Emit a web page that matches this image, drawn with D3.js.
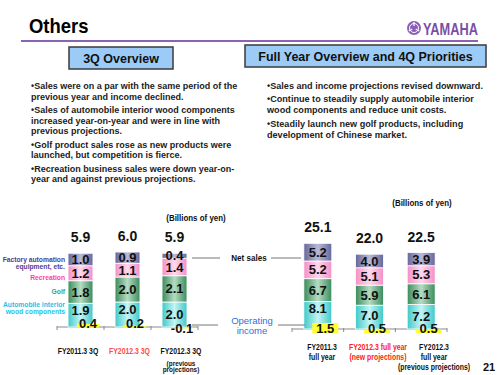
<!DOCTYPE html>
<html>
<head>
<meta charset="utf-8">
<script src="https://cdn.jsdelivr.net/npm/d3@7"></script>
<style>
  body { margin: 0; background: #fff; }
  svg { font-family: "Liberation Sans", Arial, sans-serif; }
</style>
</head>
<body>
<svg width="500" height="375"></svg>
<script>
// ---- data ----
const leftCats = ["FY2011.3 3Q", "FY2012.3 3Q", "FY2012.3 3Q (previous projections)"];
const leftAuto = [1.9, 2.0, 2.0];
const leftGolf = [1.8, 2.0, 2.1];
const leftRec = [1.2, 1.1, 1.4];
const leftFA = [1.0, 0.9, 0.4];
const leftTotal = [5.9, 6.0, 5.9];
const leftOp = [0.4, 0.2, -0.1];

const rightCats = ["FY2011.3 full year", "FY2012.3 full year (new projections)", "FY2012.3 full year (previous projections)"];
const rightAuto = [8.1, 7.0, 7.2];
const rightGolf = [6.7, 5.9, 6.1];
const rightRec = [5.2, 5.1, 5.3];
const rightFA = [5.2, 4.0, 3.9];
const rightTotal = [25.1, 22.0, 22.5];
const rightOp = [1.5, 0.5, 0.5];

const segKeys = ["auto", "golf", "rec", "fa"];

const leftBullets = [
  ["•Sales were on a par with the same period of the", "previous year and income declined."],
  ["•Sales of automobile interior wood components", "increased year-on-year and were in line with", "previous projections."],
  ["•Golf product sales rose as new products were", "launched, but competition is fierce."],
  ["•Recreation business sales were down year-on-", "year and against previous projections."]
];
const rightBullets = [
  ["•Sales and income projections revised downward."],
  ["•Continue to steadily supply automobile interior", "wood components and reduce unit costs."],
  ["•Steadily launch new golf products, including", "development of Chinese market."]
];

const leftLabelLines = [["FY2011.3 3Q"], ["FY2012.3 3Q"], ["FY2012.3 3Q", "(previous", "projections)"]];
const rightLabelLines = [["FY2011.3", "full year"], ["FY2012.3 full year", "(new projections)"], ["FY2012.3", "full year", "(previous projections)"]];

const svg = d3.select("svg");

// squeeze text horizontally, the slide uses a narrow face
function condense(sel, f) {
  sel.each(function() {
    const w = this.getComputedTextLength();
    d3.select(this).attr("textLength", w * f).attr("lengthAdjust", "spacingAndGlyphs");
  });
  return sel;
}

// ---- gradients ----
const gradColors = {
  auto: ["#3fc9c9", "#c4f4f4"],
  golf: ["#3b8c5c", "#b4dcc2"],
  rec:  ["#f390c6", "#ffd8ec"],
  fa:   ["#66679c", "#b9b9d6"]
};
const defs = svg.append("defs");
Object.keys(gradColors).forEach(k => {
  const g = defs.append("linearGradient").attr("id", "g-" + k)
    .attr("x1", "0%").attr("x2", "100%").attr("y1", "0%").attr("y2", "0%");
  g.append("stop").attr("offset", "0%").attr("stop-color", gradColors[k][0]);
  g.append("stop").attr("offset", "50%").attr("stop-color", gradColors[k][1]);
  g.append("stop").attr("offset", "100%").attr("stop-color", gradColors[k][0]);
});

// ---- header ----
condense(svg.append("text").attr("x", 29).attr("y", 33)
  .attr("font-size", 20.5).attr("font-weight", "bold").text("Others"), 0.9);
svg.append("line").attr("x1", 21).attr("x2", 478).attr("y1", 41).attr("y2", 41)
  .attr("stroke", "#8a63b4").attr("stroke-width", 2);

// logo
const logo = svg.append("g").attr("transform", "translate(414,28)");
logo.append("circle").attr("r", 7).attr("fill", "#8b5fb8");
logo.append("circle").attr("r", 4.5).attr("fill", "none").attr("stroke", "#fff").attr("stroke-width", 1);
d3.range(3).forEach(i => {
  logo.append("line").attr("x1", 0).attr("y1", -6).attr("x2", 0).attr("y2", -2)
    .attr("stroke", "#fff").attr("stroke-width", 1.2)
    .attr("transform", `rotate(${i * 120})`);
});
svg.append("text").attr("x", 423).attr("y", 35)
  .attr("font-size", 16).attr("font-weight", "bold").attr("fill", "#7b4fa8")
  .attr("textLength", 55).attr("lengthAdjust", "spacingAndGlyphs").text("YAMAHA");

// section boxes
function headBox(x, y, w, h, label) {
  svg.append("rect").attr("x", x).attr("y", y).attr("width", w).attr("height", h)
    .attr("fill", "#9dcbf7").attr("stroke", "#3a3a3a").attr("stroke-width", 1.5);
  svg.append("text").attr("x", x + w / 2).attr("y", y + h / 2 + 4.5)
    .attr("text-anchor", "middle").attr("font-size", 12.5).attr("font-weight", "bold")
    .attr("fill", "#111").text(label);
}
headBox(69, 47, 104, 22, "3Q Overview");
headBox(245, 45, 241, 22, "Full Year Overview and 4Q Priorities");

// bullets
function bullets(list, x, y0, lineH, gap, fs) {
  let y = y0;
  list.forEach(par => {
    par.forEach(line => {
      svg.append("text").attr("x", x).attr("y", y)
        .attr("font-size", fs).attr("font-weight", "bold").attr("fill", "#222").text(line);
      y += lineH;
    });
    y += gap;
  });
}
bullets(leftBullets, 31, 89, 10.5, 3, 9.0);
bullets(rightBullets, 267, 88.5, 11, 2.5, 9.1);

// ---- charts ----
function drawChart(cfg) {
  const x = d3.scaleBand().domain(cfg.cats).range(cfg.xRange)
    .paddingInner(cfg.pad).paddingOuter(cfg.pad / 2);
  const y = d3.scaleLinear().domain(cfg.yDomain).range(cfg.yRange);
  const yOp = d3.scaleLinear().domain([0, 1]).range([cfg.opZero, cfg.opZero - cfg.opUnit]);

  const rows = cfg.cats.map((c, i) => ({
    cat: c, auto: cfg.auto[i], golf: cfg.golf[i], rec: cfg.rec[i], fa: cfg.fa[i],
    total: cfg.total[i], op: cfg.op[i], idx: i
  }));
  const stack = d3.stack().keys(segKeys)(rows);

  const g = svg.append("g");

  // axis line with ticks at band edges
  const y0 = y(0);
  g.append("line").attr("x1", cfg.xRange[0]).attr("x2", cfg.xRange[1])
    .attr("y1", y0).attr("y2", y0).attr("stroke", "#8a8a8a").attr("stroke-width", 1.2);
  g.selectAll(".tk").data(d3.range(cfg.cats.length + 1)).join("line")
    .attr("x1", i => cfg.xRange[0] + i * x.step())
    .attr("x2", i => cfg.xRange[0] + i * x.step())
    .attr("y1", y0 - 1).attr("y2", y0 + 3).attr("stroke", "#8a8a8a").attr("stroke-width", 1);

  // stacked bars
  stack.forEach(layer => {
    const k = layer.key;
    g.selectAll(".s-" + k).data(layer).join("rect")
      .attr("x", d => x(d.data.cat))
      .attr("width", x.bandwidth())
      .attr("y", d => y(d[1]))
      .attr("height", d => y(d[0]) - y(d[1]))
      .attr("fill", `url(#g-${k})`)
      .attr("stroke", "#fff").attr("stroke-width", 0.8);
  });

  // operating income bars
  const opX = d => x(d.cat) + x.bandwidth() * cfg.opShift;
  g.selectAll(".op").data(rows).join("rect")
    .attr("x", opX).attr("width", cfg.opW)
    .attr("y", d => Math.min(yOp(d.op), yOp(0)))
    .attr("height", d => Math.abs(yOp(d.op) - yOp(0)))
    .attr("fill", "#ffff33");

  // segment labels
  stack.forEach(layer => {
    const k = layer.key;
    g.selectAll(".l-" + k).data(layer).join("text")
      .attr("x", d => x(d.data.cat) + x.bandwidth() / 2)
      .attr("y", d => (y(d[0]) + y(d[1])) / 2 + 4.5 + (k === "auto" ? cfg.autoDy[d.data.idx] : 0))
      .attr("text-anchor", "middle").attr("font-size", 13).attr("font-weight", "bold")
      .attr("fill", "#111").text(d => d.data[k].toFixed(1));
  });

  // totals
  g.selectAll(".tot").data(rows).join("text")
    .attr("x", d => x(d.cat) + x.bandwidth() / 2)
    .attr("y", (d, i) => y(stack[3][i][1]) - 11)
    .attr("text-anchor", "middle").attr("font-size", 14).attr("font-weight", "bold")
    .attr("fill", "#111").text(d => d.total.toFixed(1));

  g.selectAll(".opl").data(rows).join("text")
    .attr("x", d => opX(d) + cfg.opW / 2)
    .attr("y", d => (d.op < 0 ? cfg.opZero + 5 : cfg.opZero) + cfg.opLabelDy)
    .attr("text-anchor", "middle").attr("font-size", 13).attr("font-weight", "bold")
    .attr("fill", "#111").text(d => d.op.toFixed(1));

  // category labels
  const xl = d3.scalePoint().domain(cfg.cats).range(cfg.labRange);
  cfg.cats.forEach((c, i) => {
    let yy = cfg.labY;
    cfg.labLines[i].forEach((ln, j) => {
      if (j > 0) yy += cfg.labStep[j - 1];
      const t = g.append("text").attr("x", xl(c)).attr("y", yy)
        .attr("text-anchor", "middle").attr("font-size", j > 0 ? cfg.labFs2 : 8.6)
        .attr("font-weight", "bold").attr("fill", cfg.labColor[i]).text(ln);
      condense(t, 0.8);
    });
  });

  condense(g.append("text").attr("x", cfg.unitX).attr("y", cfg.unitY)
    .attr("text-anchor", "middle").attr("font-size", 8.8).attr("font-weight", "bold")
    .attr("fill", "#111").text("(Billions of yen)"), 0.9);
}

drawChart({
  cats: leftCats, auto: leftAuto, golf: leftGolf, rec: leftRec, fa: leftFA,
  total: leftTotal, op: leftOp,
  xRange: [57, 198], pad: 0.47, yDomain: [0, 6], yRange: [327, 252],
  opZero: 327.5, opUnit: 9, opShift: 0.36, opW: 22, opLabelDy: 0,
  autoDy: [-5, -5, 0],
  labLines: leftLabelLines, labRange: [78, 181], labY: 354, labStep: [11.5, 6.5], labFs2: 8,
  labColor: ["#111", "#ff4b4b", "#111"],
  unitX: 196, unitY: 221
});

drawChart({
  cats: rightCats, auto: rightAuto, golf: rightGolf, rec: rightRec, fa: rightFA,
  total: rightTotal, op: rightOp,
  xRange: [292, 447], pad: 0.46, yDomain: [0, 25], yRange: [329, 244],
  opZero: 333, opUnit: 6.7, opShift: 0.3, opW: 26, opLabelDy: 0,
  autoDy: [-7, -2, 0],
  labLines: rightLabelLines, labRange: [322, 434], labY: 350, labStep: [10, 10], labFs2: 8.6,
  labColor: ["#111", "#ff2020", "#111"],
  unitX: 422, unitY: 206
});

// segment legend on left
const legend = [
  { lines: ["Factory automation", "equipment, etc."], y: 262, color: "#4b4196" },
  { lines: ["Recreation"], y: 280, color: "#ff3ea0" },
  { lines: ["Golf"], y: 293.5, color: "#2aa596" },
  { lines: ["Automobile interior", "wood components"], y: 307, color: "#20c4ea" }
];
legend.forEach(d => {
  d.lines.forEach((ln, j) => {
    const t = svg.append("text").attr("x", 65).attr("y", d.y + j * 7)
      .attr("text-anchor", "end").attr("font-size", 8).attr("font-weight", "bold")
      .attr("fill", d.color).text(ln);
    condense(t, 0.84);
  });
});

// annotations between charts
const ann = svg.append("g").attr("stroke", "#777").attr("stroke-width", 1);
ann.append("line").attr("x1", 192).attr("x2", 220).attr("y1", 258).attr("y2", 258);
ann.append("line").attr("x1", 271).attr("x2", 301).attr("y1", 258).attr("y2", 258);
ann.append("line").attr("x1", 192).attr("x2", 218).attr("y1", 325).attr("y2", 325);
ann.append("line").attr("x1", 278).attr("x2", 305).attr("y1", 325).attr("y2", 325);
condense(svg.append("text").attr("x", 249).attr("y", 261).attr("text-anchor", "middle")
  .attr("font-size", 9.2).attr("font-weight", "bold").attr("fill", "#111").text("Net sales"), 0.88);
svg.append("text").attr("x", 252).attr("y", 324).attr("text-anchor", "middle")
  .attr("font-size", 9.5).attr("fill", "#2a72d8").text("Operating");
svg.append("text").attr("x", 252).attr("y", 334).attr("text-anchor", "middle")
  .attr("font-size", 9.5).attr("fill", "#2a72d8").text("income");

svg.append("text").attr("x", 489).attr("y", 371).attr("text-anchor", "middle")
  .attr("font-size", 11).attr("font-weight", "bold").attr("fill", "#111").text("21");
</script>
</body>
</html>
